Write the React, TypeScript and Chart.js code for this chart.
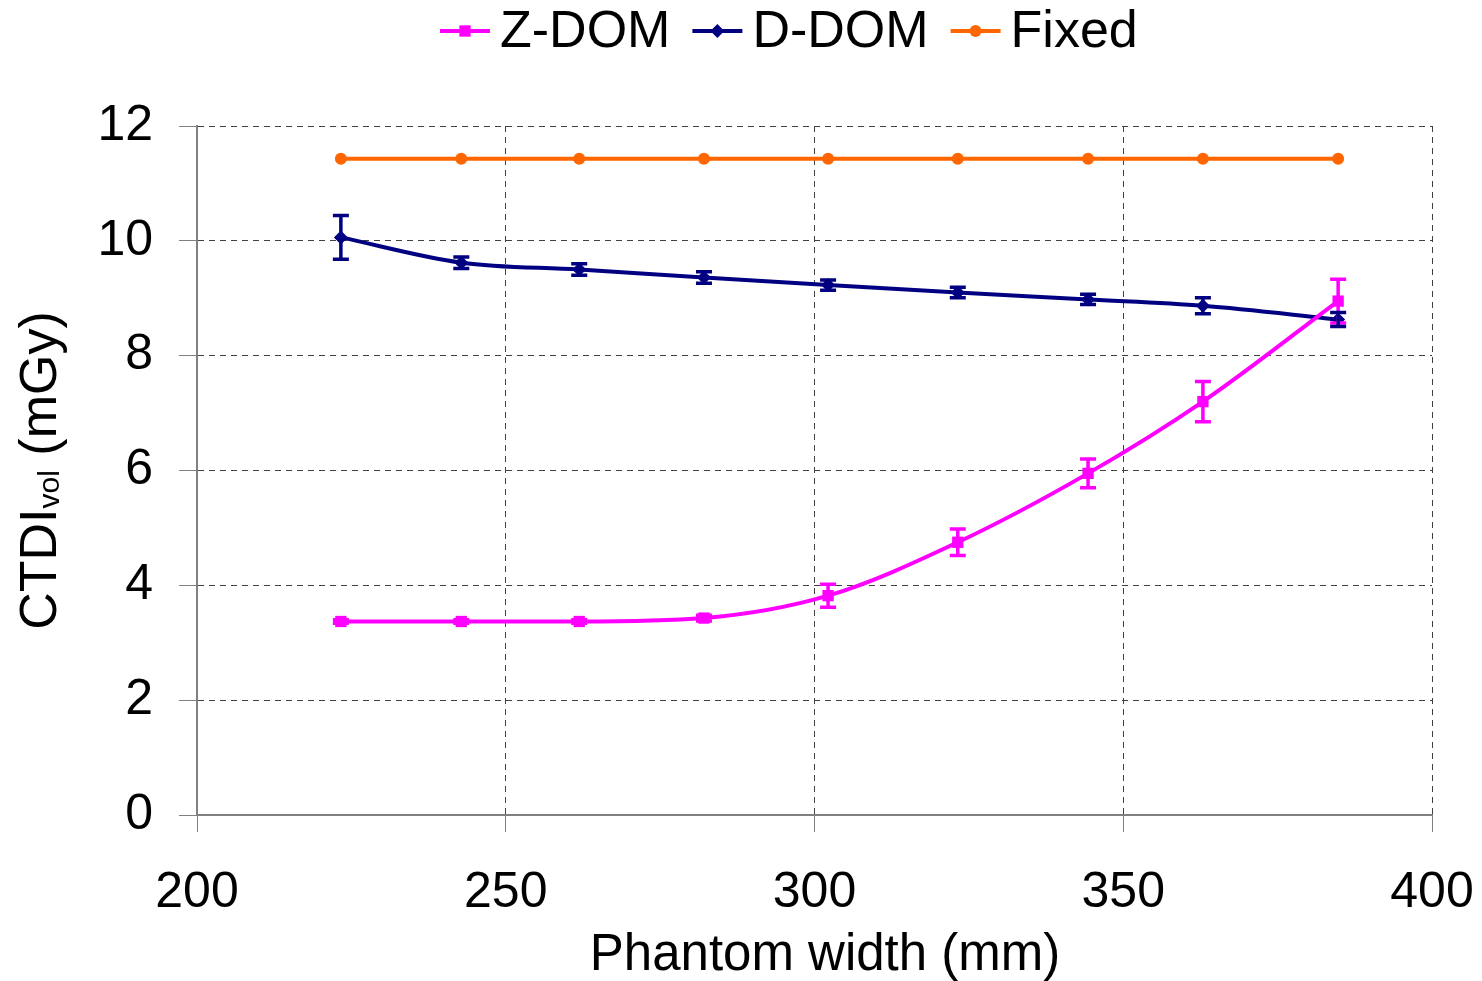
import React, { useEffect, useRef } from "react";
import { Chart, registerables } from "chart.js";

Chart.register(...registerables);

const widths = [223.3, 242.8, 261.9, 282.1, 302.2, 323.2, 344.3, 362.9, 384.8];
const zdom = [3.37, 3.37, 3.37, 3.43, 3.82, 4.75, 5.95, 7.2, 8.95];
const zdomErr = [0.03, 0.03, 0.03, 0.05, 0.2, 0.23, 0.25, 0.35, 0.38];
const ddom = [10.06, 9.62, 9.5, 9.36, 9.23, 9.1, 8.98, 8.87, 8.63];
const ddomErr = [0.38, 0.1, 0.1, 0.1, 0.09, 0.09, 0.09, 0.14, 0.12];
const fixed = [11.43, 11.43, 11.43, 11.43, 11.43, 11.43, 11.43, 11.43, 11.43];

const xTicks = [200, 250, 300, 350, 400];
const yTicks = [0, 2, 4, 6, 8, 10, 12];

const FONT = "'Liberation Sans', Arial, sans-serif";
const MAGENTA = "#FF00FF";
const NAVY = "#000080";
const ORANGE = "#FF6600";

const seriesMeta = [
  { label: "Z-DOM", color: MAGENTA, style: "rect", radius: 8 },
  { label: "D-DOM", color: NAVY, style: "rectRot", radius: 7 },
  { label: "Fixed", color: ORANGE, style: "circle", radius: 6 },
];

const errorBarPlugin = {
  id: "errorBars",
  afterDatasetsDraw(chart: any) {
    const ctx = chart.ctx;
    const xs = chart.scales.x;
    const ys = chart.scales.y;
    chart.data.datasets.forEach((ds: any) => {
      if (!ds.errors) return;
      ctx.save();
      ctx.strokeStyle = ds.borderColor;
      ctx.lineWidth = 3.5;
      ds.data.forEach((p: any, i: number) => {
        const e = ds.errors[i];
        const px = xs.getPixelForValue(p.x);
        const top = ys.getPixelForValue(p.y + e);
        const bot = ys.getPixelForValue(p.y - e);
        ctx.beginPath();
        ctx.moveTo(px, top);
        ctx.lineTo(px, bot);
        ctx.moveTo(px - 8, top);
        ctx.lineTo(px + 8, top);
        ctx.moveTo(px - 8, bot);
        ctx.lineTo(px + 8, bot);
        ctx.stroke();
      });
      ctx.restore();
    });
  },
};

function drawMarker(ctx: CanvasRenderingContext2D, style: string, x: number, y: number, r: number, color: string) {
  ctx.save();
  ctx.fillStyle = color;
  ctx.beginPath();
  if (style === "rect") {
    const s = r * Math.SQRT1_2;
    ctx.rect(x - s, y - s, 2 * s, 2 * s);
  } else if (style === "rectRot") {
    ctx.moveTo(x, y - r);
    ctx.lineTo(x + r, y);
    ctx.lineTo(x, y + r);
    ctx.lineTo(x - r, y);
    ctx.closePath();
  } else {
    ctx.arc(x, y, r, 0, Math.PI * 2);
  }
  ctx.fill();
  ctx.restore();
}

const customTextPlugin = {
  id: "customText",
  afterDraw(chart: any) {
    const ctx = chart.ctx as CanvasRenderingContext2D;
    const area = chart.chartArea;
    // Legend
    ctx.save();
    ctx.font = `52px ${FONT}`;
    ctx.textBaseline = "alphabetic";
    ctx.textAlign = "left";
    let x = 440;
    const ly = 31;
    seriesMeta.forEach((m) => {
      ctx.strokeStyle = m.color;
      ctx.lineWidth = 4;
      ctx.beginPath();
      ctx.moveTo(x, ly);
      ctx.lineTo(x + 50, ly);
      ctx.stroke();
      drawMarker(ctx, m.style, x + 25, ly, m.radius, m.color);
      ctx.fillStyle = "#000";
      ctx.fillText(m.label, x + 60, 47);
      x += 60 + ctx.measureText(m.label).width + 22;
    });
    ctx.restore();

    // X axis title
    ctx.save();
    ctx.font = `51px ${FONT}`;
    ctx.fillStyle = "#000";
    ctx.textAlign = "center";
    ctx.textBaseline = "alphabetic";
    ctx.fillText("Phantom width (mm)", 825, 970);
    ctx.restore();

    // Y axis title with subscript
    ctx.save();
    const cy = (area.top + area.bottom) / 2;
    ctx.translate(56, cy);
    ctx.rotate(-Math.PI / 2);
    ctx.fillStyle = "#000";
    ctx.textBaseline = "alphabetic";
    ctx.textAlign = "left";
    const bigFont = `52px ${FONT}`;
    const smallFont = `30px ${FONT}`;
    ctx.font = bigFont;
    const w1 = ctx.measureText("CTDI").width;
    const w3 = ctx.measureText(" (mGy)").width;
    ctx.font = smallFont;
    const w2 = ctx.measureText("vol").width;
    const total = w1 + w2 + w3;
    let tx = -total / 2;
    ctx.font = bigFont;
    ctx.fillText("CTDI", tx, 0);
    tx += w1;
    ctx.font = smallFont;
    ctx.fillText("vol", tx, 3);
    tx += w2;
    ctx.font = bigFont;
    ctx.fillText(" (mGy)", tx, 0);
    ctx.restore();
  },
};

export default function App() {
  const ref = useRef<HTMLCanvasElement | null>(null);
  useEffect(() => {
    if (!ref.current) return;
    const mk = (ys: number[]) => widths.map((x, i) => ({ x, y: ys[i] }));
    const chart = new Chart(ref.current, {
      type: "line",
      data: {
        datasets: [
          {
            label: "Z-DOM",
            data: mk(zdom),
            errors: zdomErr,
            borderColor: MAGENTA,
            backgroundColor: MAGENTA,
            borderWidth: 4,
            pointStyle: "rect",
            pointRadius: 8,
            pointBorderWidth: 0,
            cubicInterpolationMode: "monotone",
          } as any,
          {
            label: "D-DOM",
            data: mk(ddom),
            errors: ddomErr,
            borderColor: NAVY,
            backgroundColor: NAVY,
            borderWidth: 4,
            pointStyle: "rectRot",
            pointRadius: 7,
            pointBorderWidth: 0,
            cubicInterpolationMode: "monotone",
          } as any,
          {
            label: "Fixed",
            data: mk(fixed),
            borderColor: ORANGE,
            backgroundColor: ORANGE,
            borderWidth: 4,
            pointStyle: "circle",
            pointRadius: 6,
            pointBorderWidth: 0,
          } as any,
        ],
      },
      options: {
        animation: false,
        responsive: true,
        maintainAspectRatio: false,
        layout: { padding: { top: 126, left: 0, right: 50, bottom: 0 } },
        plugins: {
          legend: { display: false },
          tooltip: { enabled: false },
        },
        scales: {
          x: {
            type: "linear",
            min: 200,
            max: 400,
            afterBuildTicks: (s: any) => {
              s.ticks = xTicks.map((v) => ({ value: v }));
            },
            afterFit: (s: any) => {
              s.height = 166;
              s.paddingLeft = 0;
              s.paddingRight = 0;
            },
            ticks: {
              font: { family: FONT, size: 50 },
              color: "#000",
              padding: 31,
              maxRotation: 0,
            },
            grid: {
              color: "#404040",
              tickColor: "#808080",
              tickLength: 17,
              lineWidth: 1,
            },
            border: { color: "#808080", width: 2, dash: [6, 5] },
          },
          y: {
            type: "linear",
            min: 0,
            max: 12,
            afterBuildTicks: (s: any) => {
              s.ticks = yTicks.map((v) => ({ value: v }));
            },
            afterFit: (s: any) => {
              s.width = 197;
              s.paddingTop = 0;
              s.paddingBottom = 0;
            },
            ticks: {
              font: { family: FONT, size: 50 },
              color: "#000",
              padding: 26,
            },
            grid: {
              color: "#404040",
              tickColor: "#808080",
              tickLength: 18,
              lineWidth: 1,
            },
            border: { color: "#808080", width: 2, dash: [6, 5] },
          },
        },
      } as any,
      plugins: [errorBarPlugin, customTextPlugin],
    });
    return () => chart.destroy();
  }, []);
  return (
    <div style={{ position: "fixed", left: 0, top: 0, width: 1482, height: 981, background: "#fff" }}>
      <canvas ref={ref} />
    </div>
  );
}
